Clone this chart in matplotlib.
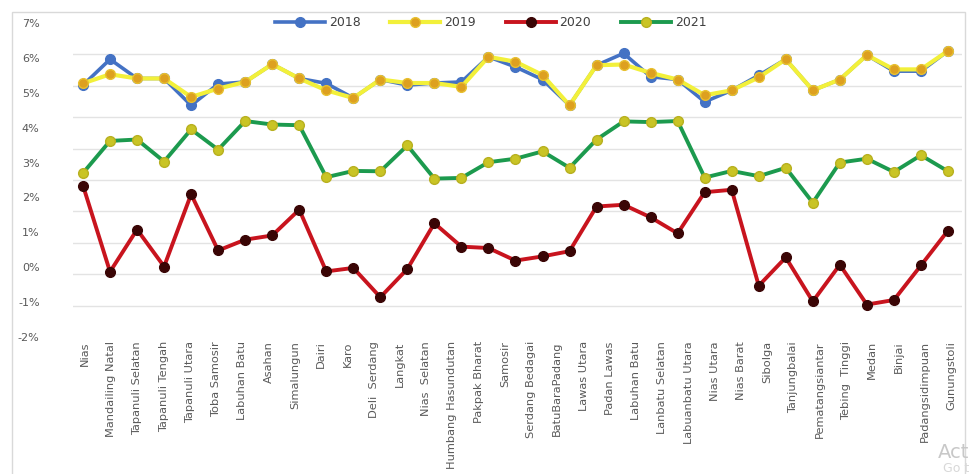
import matplotlib
matplotlib.use("Agg")
import matplotlib.pyplot as plt
import numpy as np
from matplotlib.patches import Rectangle

# category labels on the x axis (34 labels, 33 plotted points in the source picture)
regions = ["Nias", "Mandailing Natal", "Tapanuli Selatan", "Tapanuli Tengah",
           "Tapanuli Utara", "Toba Samosir", "Labuhan Batu", "Asahan",
           "Simalungun", "Dairi", "Karo", "Deli  Serdang", "Langkat",
           "Nias  Selatan", "Humbang Hasundutan", "Pakpak Bharat", "Samosir",
           "Serdang Bedagai", "BatuBaraPadang", "Lawas Utara", "Padan Lawas",
           "Labuhan Batu", "Lanbatu Selatan", "Labuanbatu Utara", "Nias Utara",
           "Nias Barat", "Sibolga", "Tanjungbalai", "Pematangsiantar",
           "Tebing  Tinggi", "Medan", "Binjai", "Padangsidimpuan", "Gunungstoli"]

y2018 = [5.22, 5.96, 5.41, 5.41, 4.64, 5.25, 5.31, 5.82, 5.41, 5.27, 4.85,
         5.38, 5.22, 5.28, 5.31, 6.03, 5.74, 5.38, 4.64, 5.79, 6.13, 5.46,
         5.38, 4.74, 5.07, 5.50, 5.96, 5.07, 5.38, 6.08, 5.62, 5.62, 6.20]
y2019 = [5.27, 5.53, 5.41, 5.41, 4.88, 5.12, 5.31, 5.82, 5.41, 5.07, 4.85,
         5.38, 5.28, 5.28, 5.17, 6.03, 5.89, 5.51, 4.64, 5.79, 5.81, 5.57,
         5.38, 4.93, 5.07, 5.44, 5.96, 5.07, 5.38, 6.08, 5.67, 5.67, 6.20]
y2020 = [2.34, -0.13, 1.08, 0.02, 2.09, 0.48, 0.79, 0.91, 1.65, -0.12, -0.02,
         -0.86, -0.05, 1.26, 0.59, 0.55, 0.19, 0.31, 0.46, 1.74, 1.79, 1.43,
         0.97, 2.15, 2.22, -0.53, 0.28, -0.98, 0.07, -1.07, -0.94, 0.05, 1.05]
y2021 = [2.70, 3.62, 3.66, 3.03, 3.95, 3.37, 4.19, 4.09, 4.07, 2.58, 2.76,
         2.75, 3.49, 2.54, 2.56, 3.01, 3.11, 3.32, 2.85, 3.66, 4.18, 4.16,
         4.19, 2.57, 2.76, 2.61, 2.85, 1.85, 3.00, 3.11, 2.73, 3.21, 2.75]

ytick_vals = [7, 6, 5, 4, 3, 2, 1, 0, -1, -2]
ytick_labels = ["7%", "6%", "5%", "4%", "3%", "2%", "1%", "0%", "-1%", "-2%"]

fam = ["Liberation Sans Narrow", "DejaVu Sans"]
plt.rcParams['font.family'] = fam

fig = plt.figure(figsize=(9.72, 4.74), dpi=100)
fig.patch.set_facecolor("white")
fig.patches.append(Rectangle((12 / 972, -0.01), 953 / 972, 1 - 12 / 474 + 0.01,
                             transform=fig.transFigure, fill=False,
                             edgecolor="#d9d9d9", linewidth=1.0))

ax = fig.add_axes([73 / 972, 1 - 337 / 474, 889 / 972, 314 / 474])
x = np.arange(len(y2019))

ax.plot(x, y2018, color="#4472C4", lw=2.6, marker="o", ms=7,
        mfc="#4472C4", mec="#4472C4", label="2018", zorder=3)
ax.plot(x, y2019, color="#F2F03A", lw=3.0, marker="o", ms=7,
        mfc="#DDA020", mec="#E8C030", label="2019", zorder=4)
ax.plot(x, y2020, color="#C8141E", lw=2.8, marker="o", ms=7,
        mfc="#3A0505", mec="#3A0505", label="2020", zorder=5)
ax.plot(x, y2021, color="#1C9A4E", lw=2.8, marker="o", ms=7,
        mfc="#C9C425", mec="#B8B020", label="2021", zorder=5)

ax.set_xlim(-0.37, 32.52)
ax.set_ylim(-2, 7)
ax.set_yticks(ytick_vals)
ax.set_yticklabels(ytick_labels, color="#595959", fontsize=8)
ax.set_yticks(np.linspace(-2, 7, 11), minor=True)
ax.tick_params(axis="y", which="both", length=0, pad=24)
ax.grid(True, axis="y", which="minor", color="#e3e3e3", lw=1.0)
ax.set_xticks([])
for s in ax.spines.values():
    s.set_visible(False)

# region labels on their own axis
ax2 = ax.twiny()
ax2.set_xlim(-0.457, 33.42)
ax2.xaxis.set_ticks_position("bottom")
ax2.set_xticks(np.arange(len(regions)))
ax2.set_xticklabels(regions, rotation=90, color="#595959", fontsize=8.2,
                    va="top", ha="center")
ax2.tick_params(axis="x", length=0, pad=3)
for s in ax2.spines.values():
    s.set_visible(False)

leg = ax.legend(loc="center", bbox_to_anchor=(0.47, 1.0), ncol=4,
                frameon=False, fontsize=9, handlelength=4.0,
                handletextpad=0.3, columnspacing=2.4)
for t in leg.get_texts():
    t.set_color("#404040")

# partly visible screen watermark in the corner
fig.text(969 / 972, 1 - 452 / 474, "Act", color="#c8c8c8",
         fontsize=14, va="center", ha="right")
fig.text(969 / 972, 1 - 468 / 474, "Go t", color="#d8d8d8",
         fontsize=9, va="center", ha="right")

fig.savefig("out.png", dpi=100, facecolor="white")
